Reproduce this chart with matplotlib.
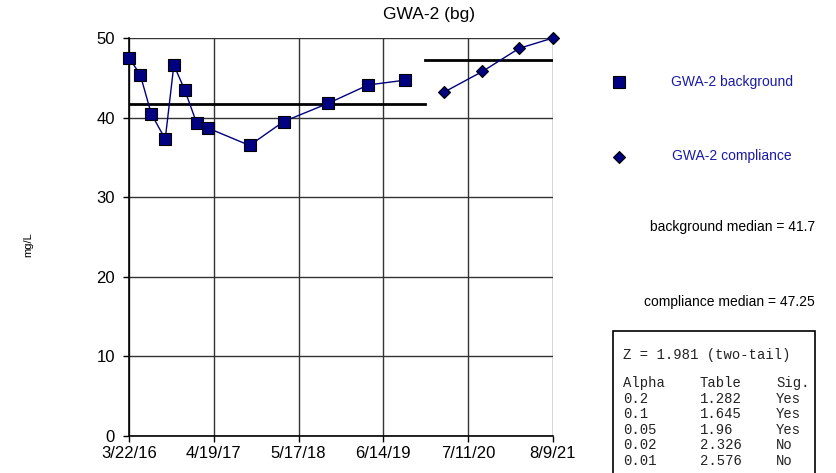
import matplotlib
matplotlib.use("Agg")
from matplotlib import pyplot as plt
import pandas as pd

plt.rcParams["font.family"] = ["Liberation Sans", "DejaVu Sans"]

bg_dates = ["2016-03-22", "2016-05-13", "2016-07-03", "2016-09-06", "2016-10-16",
            "2016-12-05", "2017-01-30", "2017-03-22", "2017-10-02", "2018-03-09",
            "2018-10-02", "2019-04-05", "2019-09-22"]
bg_values = [47.5, 45.4, 40.5, 37.3, 46.6, 43.5, 39.3, 38.7, 36.5, 39.5, 41.8, 44.1, 44.7]

comp_dates = ["2020-03-22", "2020-09-16", "2021-03-05", "2021-08-09"]
comp_values = [43.2, 45.8, 48.7, 50.0]

bg_median = 41.7
comp_median = 47.25
median_split = "2019-12-24"

tick_dates = ["2016-03-22", "2017-04-19", "2018-05-17", "2019-06-14", "2020-07-11", "2021-08-09"]
tick_labels = ["3/22/16", "4/19/17", "5/17/18", "6/14/19", "7/11/20", "8/9/21"]

stats_rows = [("Alpha", "Table", "Sig."),
              ("0.2", "1.282", "Yes"),
              ("0.1", "1.645", "Yes"),
              ("0.05", "1.96", "Yes"),
              ("0.02", "2.326", "No"),
              ("0.01", "2.576", "No")]

bg_x = pd.to_datetime(bg_dates)
comp_x = pd.to_datetime(comp_dates)
ticks = pd.to_datetime(tick_dates)
split = pd.Timestamp(median_split)

fig = plt.figure(figsize=(8.37, 4.73), dpi=100)
ax = fig.add_axes([129 / 837, 1 - 436 / 473, 424 / 837, 398 / 473])

navy = "#000080"
ax.plot(bg_x, bg_values, color=navy, lw=1, marker="s", ms=8,
        mfc=navy, mec="black", mew=0.8, zorder=4, clip_on=False)
ax.plot(comp_x, comp_values, color=navy, lw=1, marker="D", ms=6.5,
        mfc=navy, mec="black", mew=0.8, zorder=4, clip_on=False)

ax.plot([ticks[0], split], [bg_median, bg_median], color="black", lw=2, zorder=3)
ax.plot([split, ticks[-1]], [comp_median, comp_median], color="black", lw=2, zorder=3)

ax.set_xlim(ticks[0], ticks[-1])
ax.set_ylim(0, 50)
ax.set_xticks(ticks)
ax.set_xticklabels(tick_labels)
ax.set_yticks([0, 10, 20, 30, 40, 50])
ax.tick_params(labelsize=12, length=4, width=1, color="black")
ax.tick_params(axis="y", pad=6)
ax.grid(True, color="#333333", lw=1)
ax.set_axisbelow(True)
for side in ["top", "right"]:
    ax.spines[side].set_visible(False)
for side in ["left", "bottom"]:
    ax.spines[side].set_linewidth(1.2)

fig.text(429 / 837, 1 - 15 / 473, "GWA-2 (bg)", ha="center", va="center", fontsize=12.5)
fig.text(28 / 837, 1 - 245 / 473, "mg/L", rotation=90, ha="center", va="center", fontsize=8)

# legend entries
fig.lines.append(plt.Line2D([619 / 837], [1 - 82 / 473], transform=fig.transFigure,
                            marker="s", ms=8, mfc=navy, mec="black", mew=0.8, ls="none"))
fig.lines.append(plt.Line2D([619 / 837], [1 - 157 / 473], transform=fig.transFigure,
                            marker="D", ms=6.5, mfc=navy, mec="black", mew=0.8, ls="none"))
fig.text(671 / 837, 1 - 82 / 473, "GWA-2 background", color="#1a1aa6", fontsize=10, va="center")
fig.text(672 / 837, 1 - 156 / 473, "GWA-2 compliance", color="#1a1aa6", fontsize=10, va="center")
fig.text(815 / 837, 1 - 227 / 473, "background median = 41.7", fontsize=10, va="center", ha="right")
fig.text(815 / 837, 1 - 302 / 473, "compliance median = 47.25", fontsize=10, va="center", ha="right")

# stats box
box = plt.Rectangle((613 / 837, -0.01), 202 / 837, 1 - 331 / 473 + 0.01,
                    transform=fig.transFigure, fill=False, ec="black", lw=1.2)
fig.patches.append(box)
mono = ["Liberation Mono", "DejaVu Sans Mono"]
fig.text(623 / 837, 1 - 355 / 473, "Z = 1.981 (two-tail)", family=mono, fontsize=10,
         va="center", color="#222222")
col_x = [623, 700, 776]
for i, row in enumerate(stats_rows):
    y = 383 + i * 15.6
    for cx, cell in zip(col_x, row):
        fig.text(cx / 837, 1 - y / 473, cell, family=mono, fontsize=10,
                 va="center", color="#222222")

fig.savefig("out.png", dpi=100)
